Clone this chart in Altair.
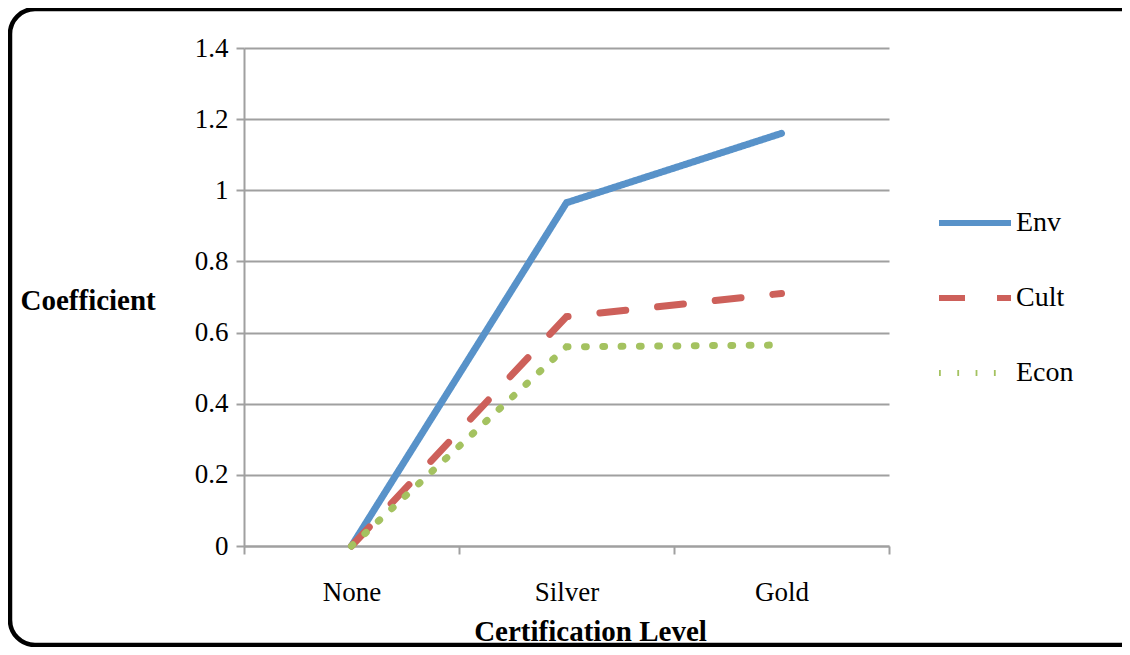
import altair as alt
import pandas as pd

levels = ["None", "Silver", "Gold"]
series = ["Env", "Cult", "Econ"]
env = [0.0, 0.965, 1.16]
cult = [0.0, 0.645, 0.71]
econ = [0.0, 0.56, 0.565]
y_ticks = [0, 0.2, 0.4, 0.6, 0.8, 1.0, 1.2, 1.4]
colors = ["#5892C9", "#CD605A", "#A4C260"]
dashes = [[1, 0], [26, 32], [1.8, 16.5]]

rows = []
for name, vals in zip(series, [env, cult, econ]):
    for lvl, v in zip(levels, vals):
        rows.append({"level": lvl, "series": name, "value": v})
df = pd.DataFrame(rows)

FONT = "Liberation Serif"
GRAY = "#A0A0A0"

legend = alt.Legend(
    title=None, orient="none", legendX=692, legendY=136,
    symbolType="stroke", symbolSize=5184, symbolStrokeWidth=6,
    labelFont=FONT, labelFontSize=28, labelColor="black", labelOffset=2,
    rowPadding=22, padding=0,
)

lines = alt.Chart(df).mark_line(strokeWidth=7, strokeCap="round").encode(
    x=alt.X(
        "level:N", sort=levels,
        scale=alt.Scale(type="band", domain=levels, paddingInner=0, paddingOuter=0),
        axis=alt.Axis(
            title="Certification Level", tickBand="extent", labelAngle=0,
            grid=False, labelBaseline="alphabetic", labelPadding=46,
            titleX=346, titleY=94, titleAlign="center", titleBaseline="alphabetic",
        ),
    ),
    y=alt.Y(
        "value:Q",
        scale=alt.Scale(domain=[0, 1.4], nice=False, zero=True),
        axis=alt.Axis(
            values=y_ticks, format="~g", title="Coefficient", grid=True,
            labelPadding=8, titleAngle=0, titleX=-224, titleY=261,
            titleAlign="left", titleBaseline="alphabetic",
        ),
    ),
    color=alt.Color("series:N", scale=alt.Scale(domain=series, range=colors), legend=legend),
    strokeDash=alt.StrokeDash("series:N", scale=alt.Scale(domain=series, range=dashes), legend=legend),
)

frame = alt.Chart(pd.DataFrame({"f": [0]})).mark_rect(
    filled=False, stroke="black", strokeWidth=4.5, cornerRadius=25
).encode(
    x=alt.value(-234), x2=alt.value(901), y=alt.value(-39), y2=alt.value(597)
)

chart = alt.layer(lines, frame).properties(
    width=645, height=498,
    autosize=alt.AutoSizeParams(type="none"),
    padding={"left": 236, "top": 40, "right": 233, "bottom": 101},
    background="white",
).configure_axis(
    domainColor=GRAY, domainWidth=2, tickColor=GRAY, tickWidth=2, tickSize=8,
    gridColor=GRAY, gridWidth=2,
    labelFont=FONT, labelFontSize=27, labelColor="black",
    titleFont=FONT, titleFontSize=29, titleFontWeight="bold", titleColor="black",
).configure_view(strokeWidth=0)

chart.save("out.html", embed_options={"renderer": "svg", "actions": False})
